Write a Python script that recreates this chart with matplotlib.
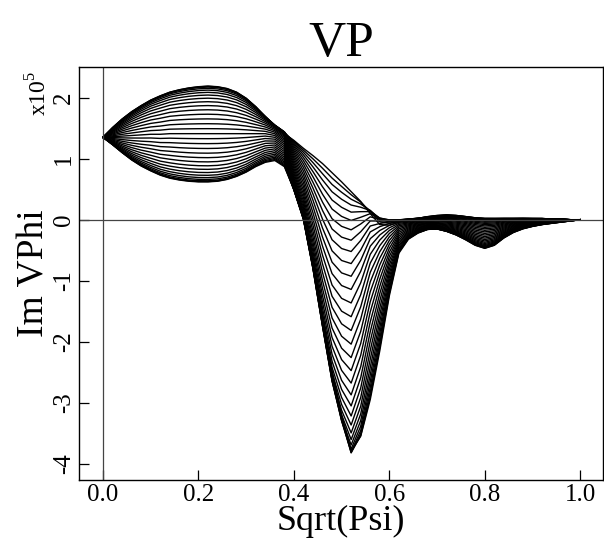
import numpy as np
import matplotlib
matplotlib.use("Agg")
import matplotlib.pyplot as plt

plt.rcParams['font.family'] = ['Liberation Serif', 'DejaVu Serif']
plt.rcParams['mathtext.fontset'] = 'custom'
plt.rcParams['mathtext.rm'] = 'Liberation Serif'

# radial coordinate
sqrt_psi = [0.00, 0.02, 0.04, 0.06, 0.08, 0.10, 0.12, 0.14, 0.16, 0.18,
            0.20, 0.22, 0.24, 0.26, 0.28, 0.30, 0.32, 0.34, 0.36, 0.38,
            0.40, 0.42, 0.44, 0.46, 0.48, 0.50, 0.52, 0.54, 0.56, 0.58,
            0.60, 0.62, 0.64, 0.66, 0.68, 0.70, 0.72, 0.74, 0.76, 0.78,
            0.80, 0.82, 0.84, 0.86, 0.88, 0.90, 0.92, 0.94, 0.96, 0.98,
            1.00]

# Im VPhi (x1e5): phase 0, phase 90 and phase 180 curves
curve_ph0 = [1.35, 1.51, 1.65, 1.77, 1.87, 1.96, 2.03, 2.09, 2.13, 2.16,
             2.18, 2.19, 2.18, 2.15, 2.09, 1.99, 1.85, 1.68, 1.52, 1.41,
             1.30, 1.17, 1.05, 0.92, 0.77, 0.62, 0.46, 0.30, 0.10, -0.08,
             -0.09, -0.04, 0.00, 0.02, 0.05, 0.07, 0.08, 0.07, 0.05, 0.03,
             0.02, 0.02, 0.02, 0.02, 0.02, 0.02, 0.02, 0.01, 0.01, 0.00,
             0.00]
curve_ph90 = [1.35, 1.36, 1.37, 1.38, 1.39, 1.40, 1.40, 1.41, 1.41, 1.41,
              1.41, 1.41, 1.41, 1.41, 1.41, 1.41, 1.41, 1.41, 1.38, 1.27,
              0.80, 0.36, -0.28, -1.00, -1.61, -1.91, -2.04, -1.63, -1.02, -0.63,
              -0.34, -0.15, -0.10, -0.07, -0.06, -0.06, -0.07, -0.09, -0.12, -0.17,
              -0.20, -0.18, -0.12, -0.08, -0.05, -0.04, -0.03, -0.02, -0.01, -0.01,
              0.00]
curve_ph180 = [1.35, 1.23, 1.10, 0.98, 0.88, 0.80, 0.73, 0.68, 0.65, 0.63,
               0.62, 0.62, 0.63, 0.66, 0.71, 0.78, 0.87, 0.94, 0.97, 0.87,
               0.50, 0.06, -0.69, -1.58, -2.48, -3.20, -3.79, -3.55, -2.95, -2.15,
               -1.25, -0.55, -0.32, -0.22, -0.16, -0.15, -0.19, -0.25, -0.33, -0.42,
               -0.47, -0.42, -0.30, -0.21, -0.15, -0.11, -0.08, -0.06, -0.04, -0.02,
               0.00]

phase_deg = [0, 6, 12, 18, 24, 30, 36, 42, 48, 54, 60, 66, 72, 78, 84, 90,
             96, 102, 108, 114, 120, 126, 132, 138, 144, 150, 156, 162, 168,
             174, 180]

x = np.array(sqrt_psi)
p0 = np.array(curve_ph0)
p90 = np.array(curve_ph90)
p180 = np.array(curve_ph180)
mean = (p0 + p180) / 2
cos_part = (p0 - p180) / 2
sin_part = p90 - mean

fig = plt.figure(figsize=(6.04, 5.42), dpi=100)
ax = fig.add_axes([0.1308, 0.1144, 0.867, 0.762])

for ph in phase_deg:
    t = np.deg2rad(ph)
    y = mean + cos_part * np.cos(t) + sin_part * np.sin(t)
    ax.plot(x, y, color='black', linewidth=1.0)

ax.axhline(0, color='#444444', linewidth=0.9)
ax.axvline(0, color='#444444', linewidth=0.9)

ax.set_xlim(-0.0503, 1.0471)
ax.set_ylim(-4.267, 2.503)
ax.set_xticks([0.0, 0.2, 0.4, 0.6, 0.8, 1.0])
ax.set_xticklabels(['0.0', '0.2', '0.4', '0.6', '0.8', '1.0'])
ax.set_yticks([-4, -3, -2, -1, 0, 1, 2])
ax.set_yticklabels(['-4', '-3', '-2', '-1', '0', '1', '2'], rotation=90, va='center')
ax.tick_params(direction='in', length=7, width=0.9, labelsize=18, pad=3,
               top=False, right=False)
for s in ax.spines.values():
    s.set_linewidth(1.0)

ax.set_title('VP', fontsize=37, pad=8)
ax.set_xlabel('Sqrt(Psi)', fontsize=26, labelpad=-1)
ax.set_ylabel('Im VPhi', fontsize=27, labelpad=1)
fig.text(0.064, 0.828, r'x10$^{5}$', rotation=90, fontsize=17,
         ha='center', va='center')

fig.savefig('out.png', dpi=100)
